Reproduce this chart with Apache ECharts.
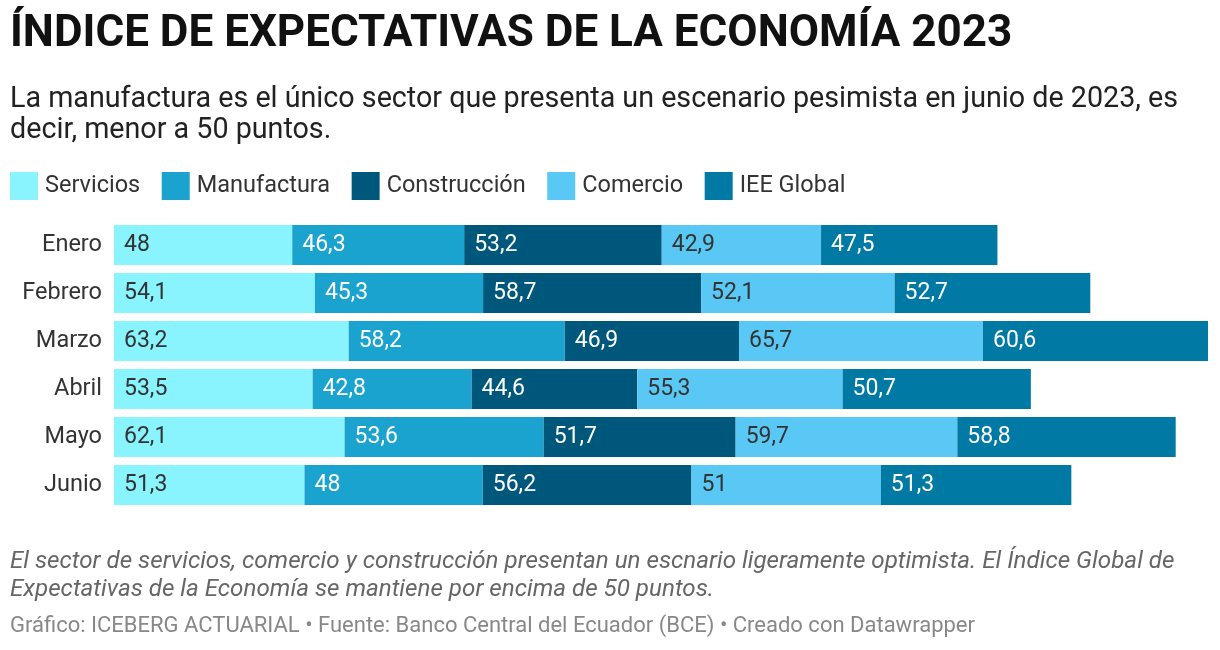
<!DOCTYPE html>
<html>
<head>
<meta charset="utf-8">
<script src="https://cdn.jsdelivr.net/npm/echarts@6/dist/echarts.min.js"></script>
<style>
  html, body { margin: 0; padding: 0; background: #fff; }
  #chart { width: 1220px; height: 650px; }
</style>
</head>
<body>
<div id="chart"></div>
<script>
var months = ['Enero', 'Febrero', 'Marzo', 'Abril', 'Mayo', 'Junio'];
var servicios = [48, 54.1, 63.2, 53.5, 62.1, 51.3];
var manufactura = [46.3, 45.3, 58.2, 42.8, 53.6, 48];
var construccion = [53.2, 58.7, 46.9, 44.6, 51.7, 56.2];
var comercio = [42.9, 52.1, 65.7, 55.3, 59.7, 51];
var ieeGlobal = [47.5, 52.7, 60.6, 50.7, 58.8, 51.3];

var seriesDefs = [
  { name: 'Servicios', data: servicios, color: '#89f4fd', text: '#333333' },
  { name: 'Manufactura', data: manufactura, color: '#1ba3cf', text: '#ffffff' },
  { name: 'Construcción', data: construccion, color: '#00577c', text: '#ffffff' },
  { name: 'Comercio', data: comercio, color: '#5ac8f5', text: '#333333' },
  { name: 'IEE Global', data: ieeGlobal, color: '#0079a5', text: '#ffffff' }
];

// largest stacked total, so the longest bar reaches the right edge
var maxTotal = 0;
months.forEach(function (m, i) {
  var t = 0;
  seriesDefs.forEach(function (s) { t += s.data[i]; });
  if (t > maxTotal) maxTotal = t;
});

var font = 'Roboto, "Noto Sans", sans-serif';

var option = {
  animation: false,
  textStyle: { fontFamily: font },
  color: seriesDefs.map(function (s) { return s.color; }),
  legend: {
    left: 10,
    top: 172,
    padding: 0,
    itemWidth: 28,
    itemHeight: 28,
    itemGap: 21.5,
    icon: 'rect',
    textStyle: { fontSize: 23.5, color: '#333', fontFamily: font, padding: [0, 0, 0, 2] },
    data: seriesDefs.map(function (s) { return s.name; })
  },
  grid: { left: 114, right: 12, top: 221, height: 288 },
  xAxis: {
    type: 'value',
    min: 0,
    max: maxTotal,
    show: false
  },
  yAxis: {
    type: 'category',
    inverse: true,
    data: months,
    axisLine: { show: false },
    axisTick: { show: false },
    axisLabel: { fontSize: 23.5, color: '#333', margin: 12, fontFamily: font }
  },
  graphic: [
    { type: 'text', left: 10, top: 13, style: { text: 'ÍNDICE DE EXPECTATIVAS DE LA ECONOMÍA 2023', font: 'bold 44px ' + font, fill: '#111' } },
    { type: 'text', left: 10, top: 84, style: { text: 'La manufactura es el único sector que presenta un escenario pesimista en junio de 2023, es\ndecir, menor a 50 puntos.', font: '28.7px ' + font, fill: '#222', lineHeight: 31 } },
    { type: 'text', left: 10, top: 548, style: { text: 'El sector de servicios, comercio y construcción presentan un escnario ligeramente optimista. El Índice Global de\nExpectativas de la Economía se mantiene por encima de 50 puntos.', font: 'italic 24.2px ' + font, fill: '#666', lineHeight: 28 } },
    { type: 'text', left: 10, top: 615, style: { text: 'Gráfico: ICEBERG ACTUARIAL • Fuente: Banco Central del Ecuador (BCE) • Creado con Datawrapper', font: '22px ' + font, fill: '#888' } }
  ],
  series: seriesDefs.map(function (s) {
    return {
      name: s.name,
      type: 'bar',
      stack: 'total',
      data: s.data,
      barCategoryGap: '16.7%',
      itemStyle: { color: s.color },
      label: {
        show: true,
        position: 'insideLeft',
        distance: 10,
        fontSize: 23,
        fontFamily: font,
        color: s.text,
        formatter: function (p) { return String(p.value).replace('.', ','); }
      }
    };
  })
};

var myChart = echarts.init(document.getElementById('chart'));
myChart.setOption(option);
</script>
</body>
</html>
